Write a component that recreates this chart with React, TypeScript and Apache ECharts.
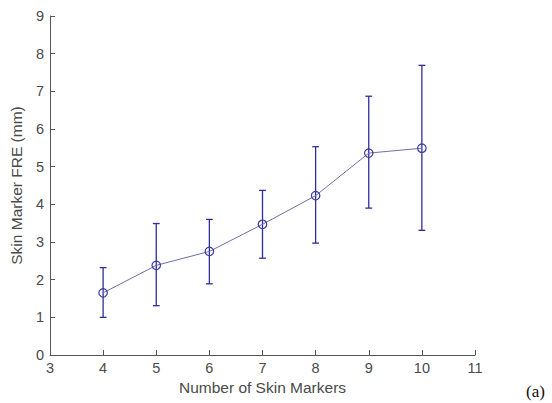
import React, { useEffect, useRef } from "react";
import * as echarts from "echarts";

const markerCounts = [4, 5, 6, 7, 8, 9, 10];
const meanFRE = [1.65, 2.38, 2.75, 3.47, 4.23, 5.36, 5.49];
const lowerFRE = [1.0, 1.31, 1.89, 2.57, 2.97, 3.9, 3.31];
const upperFRE = [2.32, 3.49, 3.6, 4.37, 5.53, 6.87, 7.69];
const xTitle = "Number of Skin Markers";
const yTitle = "Skin Marker FRE (mm)";
const panelLabel = "(a)";

export default function App() {
  const ref = useRef<HTMLDivElement>(null);
  useEffect(() => {
    if (!ref.current) return;
    const chart = echarts.init(ref.current, undefined, { renderer: "svg" });
    const font = "'Liberation Sans', Arial, sans-serif";
    const errData = markerCounts.map((x, i) => [x, lowerFRE[i], upperFRE[i]]);
    chart.setOption({
      animation: false,
      backgroundColor: "#fff",
      grid: { left: 46, top: 16, width: 429, height: 339, containLabel: false },
      xAxis: {
        type: "value",
        min: 3,
        max: 11,
        interval: 1,
        name: xTitle,
        nameLocation: "middle",
        nameGap: 24,
        nameTextStyle: { color: "#4a4a4a", fontSize: 15.5, fontFamily: font },
        axisLine: { lineStyle: { color: "#555", width: 1 } },
        axisTick: { inside: true, length: 5, lineStyle: { color: "#555" } },
        axisLabel: { color: "#4a4a4a", fontSize: 14.5, fontFamily: font, margin: 5 },
        splitLine: { show: false },
      },
      yAxis: {
        type: "value",
        min: 0,
        max: 9,
        interval: 1,
        name: yTitle,
        nameLocation: "middle",
        nameGap: 26,
        nameTextStyle: { color: "#4a4a4a", fontSize: 15.5, fontFamily: font },
        axisLine: { show: true, lineStyle: { color: "#555", width: 1 } },
        axisTick: { show: true, inside: true, length: 5, lineStyle: { color: "#555" } },
        axisLabel: { color: "#4a4a4a", fontSize: 14.5, fontFamily: font, margin: 6 },
        splitLine: { show: false },
      },
      graphic: [
        {
          type: "text",
          left: 526,
          top: 383,
          style: { text: panelLabel, fill: "#111", font: "17px 'Liberation Serif', 'Times New Roman', serif" },
        },
      ],
      series: [
        {
          type: "custom",
          data: errData,
          z: 3,
          renderItem: (params: any, api: any) => {
            const x = api.value(0);
            const lo = api.coord([x, api.value(1)]);
            const hi = api.coord([x, api.value(2)]);
            const hw = 3.4;
            const style = { stroke: "#2e2e9c", lineWidth: 1.3 };
            return {
              type: "group",
              children: [
                { type: "line", shape: { x1: lo[0], y1: lo[1], x2: hi[0], y2: hi[1] }, style },
                { type: "line", shape: { x1: lo[0] - hw, y1: lo[1], x2: lo[0] + hw, y2: lo[1] }, style },
                { type: "line", shape: { x1: hi[0] - hw, y1: hi[1], x2: hi[0] + hw, y2: hi[1] }, style },
              ],
            };
          },
        },
        {
          type: "line",
          data: markerCounts.map((x, i) => [x, meanFRE[i]]),
          z: 4,
          symbol: "circle",
          symbolSize: 8.5,
          lineStyle: { color: "#6f6fa8", width: 1 },
          itemStyle: { color: "rgba(255,255,255,0)", borderColor: "#3a3aa8", borderWidth: 1.2 },
        },
      ],
    });
    return () => chart.dispose();
  }, []);
  return (
    <div
      ref={ref}
      style={{ position: "fixed", left: 0, top: 0, width: 552, height: 403 }}
    />
  );
}
